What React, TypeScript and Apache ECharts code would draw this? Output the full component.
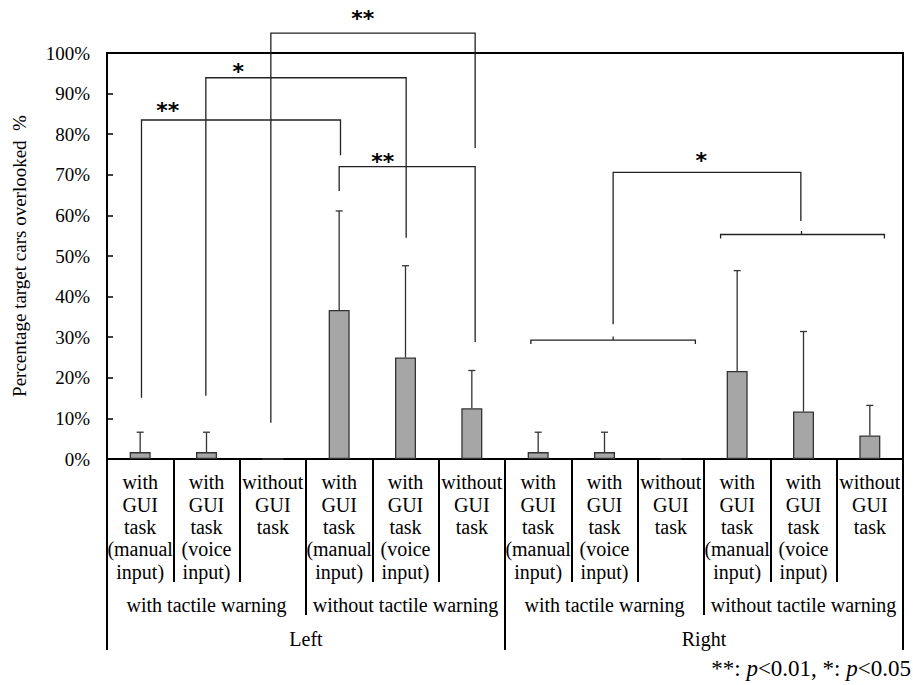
import React, { useEffect, useRef } from "react";
import * as echarts from "echarts";

const subLabels = [
  "with\nGUI\ntask\n(manual\ninput)",
  "with\nGUI\ntask\n(voice\ninput)",
  "without\nGUI\ntask",
  "with\nGUI\ntask\n(manual\ninput)",
  "with\nGUI\ntask\n(voice\ninput)",
  "without\nGUI\ntask",
  "with\nGUI\ntask\n(manual\ninput)",
  "with\nGUI\ntask\n(voice\ninput)",
  "without\nGUI\ntask",
  "with\nGUI\ntask\n(manual\ninput)",
  "with\nGUI\ntask\n(voice\ninput)",
  "without\nGUI\ntask",
];
const tactileLabels = [
  "with tactile warning",
  "without tactile warning",
  "with tactile warning",
  "without tactile warning",
];
const sideLabels = ["Left", "Right"];

// mean percentage overlooked and standard deviation (%)
const meanValues = [1.7, 1.7, 0, 36.7, 25.0, 12.5, 1.7, 1.7, 0, 21.7, 11.7, 5.8];
const sdValues = [4.9, 4.9, 0, 24.4, 22.6, 9.3, 4.9, 4.9, 0, 24.7, 19.7, 7.4];

// significance brackets: [xStart, xEnd, yTop, yLeftEnd, yRightEnd] (x in category units)
const sigBrackets = [
  [0.52, 3.52, 83.5, 15.1, 74.8],
  [1.49, 4.51, 93.9, 15.6, 54.5],
  [2.47, 5.55, 104.9, 8.9, 76.6],
  [3.5, 5.55, 72.0, 66.0, 28.8],
  [7.63, 10.46, 70.6, 33.2, 58.6],
];
// group braces: [xStart, xEnd, y, xCentre]
const groupBraces = [
  [6.39, 8.87, 29.3, 7.63],
  [9.25, 11.72, 55.3, 10.47],
];
const sigLabelPos = [
  [0.915, 87.0],
  [1.98, 96.7],
  [3.855, 109.7],
  [4.156, 74.6],
  [8.96, 74.8],
];
const sigLabelText = ["**", "*", "**", "**", "*"];

const serif = "Liberation Serif, serif";

export default function App() {
  const ref = useRef<HTMLDivElement>(null);
  useEffect(() => {
    if (!ref.current) return;
    const chart = echarts.init(ref.current, null, { renderer: "svg" });
    const axisColor = "#000";
    const option: any = {
      animation: false,
      textStyle: { fontFamily: serif },
      grid: {
        left: 107,
        right: 10,
        top: 53,
        bottom: 226,
        show: true,
        borderColor: axisColor,
        borderWidth: 2,
        backgroundColor: "transparent",
      },
      xAxis: [
        {
          type: "category",
          data: subLabels,
          position: "bottom",
          axisLine: { show: true, lineStyle: { color: axisColor, width: 2 } },
          axisTick: { show: true, interval: 0, length: 123, lineStyle: { color: axisColor, width: 2 } },
          axisLabel: {
            interval: 0,
            margin: 12,
            fontSize: 20,
            lineHeight: 22.4,
            fontFamily: serif,
            color: "#000",
            verticalAlign: "top",
          },
          splitLine: { show: false },
        },
        {
          type: "category",
          data: tactileLabels,
          position: "bottom",
          axisLine: { show: false },
          axisTick: { show: true, interval: 0, length: 156, lineStyle: { color: axisColor, width: 2 } },
          axisLabel: {
            interval: 0,
            margin: 146,
            fontSize: 20,
            fontFamily: serif,
            color: "#000",
            verticalAlign: "middle",
          },
          splitLine: { show: false },
        },
        {
          type: "category",
          data: sideLabels,
          position: "bottom",
          axisLine: { show: false },
          axisTick: { show: true, interval: 0, length: 191, lineStyle: { color: axisColor, width: 2 } },
          axisLabel: {
            interval: 0,
            margin: 180,
            fontSize: 20,
            fontFamily: serif,
            color: "#000",
            verticalAlign: "middle",
          },
          splitLine: { show: false },
        },
        {
          type: "value",
          min: 0,
          max: 12,
          show: false,
        },
      ],
      yAxis: {
        type: "value",
        min: 0,
        max: 100,
        interval: 10,
        name: "Percentage target cars overlooked  %",
        nameLocation: "middle",
        nameGap: 78,
        nameTextStyle: { fontSize: 19, fontFamily: serif, color: "#000" },
        axisLine: { show: true, lineStyle: { color: axisColor, width: 2 } },
        axisTick: { show: true, inside: true, length: 6, lineStyle: { color: axisColor, width: 1.5 } },
        axisLabel: {
          formatter: "{value}%",
          fontSize: 19,
          fontFamily: serif,
          color: "#000",
          margin: 17,
        },
        splitLine: { show: false },
      },
      series: [
        {
          type: "bar",
          xAxisIndex: 0,
          yAxisIndex: 0,
          data: meanValues,
          barWidth: 21,
          itemStyle: { color: "#a6a6a6", borderColor: "#333", borderWidth: 1.3 },
          z: 2,
        },
        {
          type: "custom",
          xAxisIndex: 0,
          yAxisIndex: 0,
          data: meanValues.map((m, i) => [i, m, sdValues[i]]),
          z: 3,
          renderItem: (params: any, api: any) => {
            const i = api.value(0);
            const m = api.value(1);
            const sd = api.value(2);
            if (!sd) return null;
            const base = api.coord([i, m]);
            const top = api.coord([i, m + sd]);
            const style = { stroke: "#333", lineWidth: 1.3 };
            return {
              type: "group",
              children: [
                { type: "line", shape: { x1: base[0], y1: base[1], x2: top[0], y2: top[1] }, style },
                { type: "line", shape: { x1: top[0] - 3.5, y1: top[1], x2: top[0] + 3.5, y2: top[1] }, style },
              ],
            };
          },
        },
        {
          type: "custom",
          xAxisIndex: 3,
          yAxisIndex: 0,
          clip: false,
          data: sigBrackets,
          z: 4,
          renderItem: (params: any, api: any) => {
            const x1 = api.value(0);
            const x2 = api.value(1);
            const t = api.value(2);
            const yl = api.value(3);
            const yr = api.value(4);
            return {
              type: "polyline",
              shape: { points: [api.coord([x1, yl]), api.coord([x1, t]), api.coord([x2, t]), api.coord([x2, yr])] },
              style: { stroke: "#222", lineWidth: 1.3, fill: null },
            };
          },
        },
        {
          type: "custom",
          xAxisIndex: 3,
          yAxisIndex: 0,
          clip: false,
          data: groupBraces,
          z: 4,
          renderItem: (params: any, api: any) => {
            const x1 = api.value(0);
            const x2 = api.value(1);
            const y = api.value(2);
            const xc = api.value(3);
            const a = api.coord([x1, y]);
            const b = api.coord([x2, y]);
            const c = api.coord([xc, y]);
            const style = { stroke: "#222", lineWidth: 1.3, fill: null };
            return {
              type: "group",
              children: [
                { type: "polyline", shape: { points: [[a[0], a[1] + 4], a, b, [b[0], b[1] + 4]] }, style },
                { type: "line", shape: { x1: c[0], y1: c[1], x2: c[0], y2: c[1] - 3.5 }, style },
              ],
            };
          },
        },
        {
          type: "custom",
          xAxisIndex: 3,
          yAxisIndex: 0,
          clip: false,
          data: sigLabelPos,
          z: 5,
          renderItem: (params: any, api: any) => {
            const p = api.coord([api.value(0), api.value(1)]);
            return {
              type: "text",
              x: p[0],
              y: p[1] + 5,
              style: {
                text: sigLabelText[params.dataIndex],
                fontSize: 22,
                fontWeight: "bold",
                fontFamily: "DejaVu Sans, sans-serif",
                fill: "#000",
                align: "center",
                verticalAlign: "middle",
              },
            };
          },
        },
      ],
      graphic: [
        {
          type: "text",
          right: 2,
          top: 657,
          style: {
            text: "{n|**: }{i|p}{n|<0.01, *: }{i|p}{n|<0.05}",
            rich: {
              n: { fontSize: 23, fontFamily: serif, fill: "#000" },
              i: { fontSize: 23, fontFamily: serif, fontStyle: "italic", fill: "#000" },
            },
          },
        },
      ],
    };
    chart.setOption(option);
    return () => chart.dispose();
  }, []);
  return <div ref={ref} style={{ position: "absolute", left: 0, top: 0, width: 913, height: 685 }} />;
}
